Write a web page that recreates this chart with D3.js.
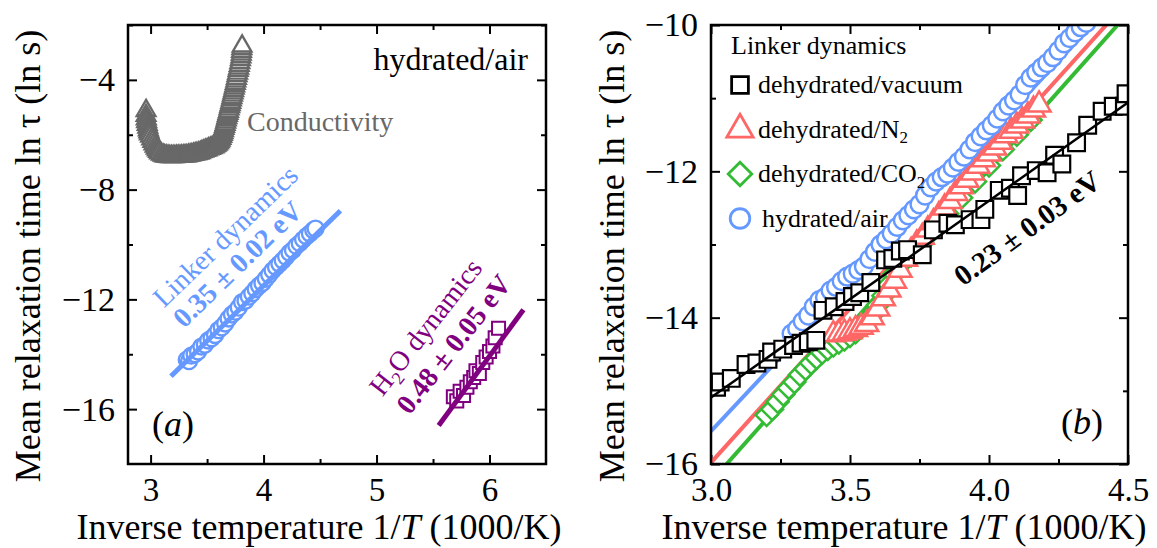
<!DOCTYPE html>
<html>
<head>
<meta charset="utf-8">
<script src="https://cdn.jsdelivr.net/npm/d3@7"></script>
<style>
body { margin: 0; background: #fff; }
text { font-family: "Liberation Serif", "Times New Roman", serif; }
</style>
</head>
<body>
<svg id="chart" width="1157" height="548"></svg>
<script>
// panel (a) data: inverse temperature (1000/K), ln tau
var conductivity = [
  [2.96, -5.12], [2.96, -5.3], [2.962, -5.42], [2.965, -5.52], [2.97, -5.62], [2.975, -5.72],
  [2.98, -5.82], [2.985, -5.9], [2.99, -5.97], [3.00, -6.05], [3.01, -6.15], [3.02, -6.24],
  [3.03, -6.33], [3.04, -6.42], [3.05, -6.49], [3.06, -6.55], [3.07, -6.61], [3.08, -6.66],
  [3.095, -6.71], [3.11, -6.74], [3.125, -6.77], [3.14, -6.78], [3.155, -6.79], [3.17, -6.8],
  [3.185, -6.8], [3.20, -6.8], [3.215, -6.8], [3.23, -6.79], [3.245, -6.79], [3.26, -6.79],
  [3.275, -6.78], [3.29, -6.78], [3.305, -6.77], [3.32, -6.77], [3.335, -6.75], [3.35, -6.74],
  [3.365, -6.73], [3.38, -6.72], [3.395, -6.7], [3.41, -6.69], [3.425, -6.67], [3.44, -6.65],
  [3.455, -6.62], [3.47, -6.6], [3.485, -6.57], [3.50, -6.55], [3.515, -6.52], [3.53, -6.5],
  [3.545, -6.47], [3.56, -6.44], [3.57, -6.41], [3.58, -6.38], [3.59, -6.34], [3.60, -6.3],
  [3.608, -6.25], [3.615, -6.2], [3.623, -6.13], [3.63, -6.06], [3.635, -5.99], [3.64, -5.92],
  [3.645, -5.85], [3.65, -5.77], [3.655, -5.7], [3.66, -5.62], [3.665, -5.54], [3.67, -5.46],
  [3.675, -5.38], [3.68, -5.3], [3.685, -5.22], [3.69, -5.15], [3.695, -5.06], [3.70, -4.98],
  [3.705, -4.9], [3.71, -4.82], [3.715, -4.73], [3.72, -4.65], [3.725, -4.56], [3.73, -4.48],
  [3.735, -4.39], [3.74, -4.3], [3.745, -4.22], [3.75, -4.13], [3.755, -4.04], [3.76, -3.95],
  [3.765, -3.85], [3.77, -3.76], [3.775, -3.66], [3.78, -3.57], [3.785, -3.47], [3.79, -3.37],
  [3.795, -3.26], [3.80, -3.16], [3.803, -3.06], [3.805, -2.96], [3.808, -2.86], [3.81, -2.77]
];
var linkerA = [
  [3.32, -14.20], [3.34, -14.25], [3.36, -14.05], [3.39, -14.00], [3.42, -13.90], [3.45, -13.72],
  [3.48, -13.65], [3.51, -13.50], [3.54, -13.42], [3.57, -13.30], [3.60, -13.12], [3.63, -13.02],
  [3.66, -12.88], [3.69, -12.70], [3.72, -12.55], [3.75, -12.45], [3.78, -12.30], [3.81, -12.10],
  [3.84, -12.05], [3.87, -11.90], [3.90, -11.78], [3.93, -11.62], [3.96, -11.50], [3.99, -11.40],
  [4.02, -11.25], [4.05, -11.10], [4.08, -10.95], [4.11, -10.82], [4.14, -10.70], [4.17, -10.58],
  [4.20, -10.45], [4.23, -10.30], [4.26, -10.20], [4.29, -10.05], [4.32, -9.95], [4.35, -9.82],
  [4.38, -9.70], [4.41, -9.60], [4.44, -9.48], [4.46, -9.42]
];
var waterA = [
  [5.68, -15.55], [5.71, -15.7], [5.74, -15.35], [5.77, -15.5], [5.80, -15.2], [5.83, -15.0],
  [5.86, -14.85], [5.88, -14.6], [5.91, -14.7], [5.94, -14.3], [5.97, -14.1], [6.00, -13.9],
  [6.03, -13.7], [6.05, -13.4], [6.08, -13.05]
];
var linkerFitA = [[3.18, -14.80], [4.68, -8.77]];
var waterFitA = [[5.55, -16.60], [6.30, -12.38]];

// panel (b) data
var vacuum = [
  [3.02, -14.95], [3.033, -14.88], [3.073, -14.83], [3.126, -14.64], [3.165, -14.62], [3.205, -14.57],
  [3.218, -14.47], [3.258, -14.43], [3.297, -14.38], [3.324, -14.35], [3.35, -14.33], [3.377, -14.31],
  [3.403, -13.90], [3.443, -13.85], [3.482, -13.78], [3.509, -13.71], [3.535, -13.66], [3.575, -13.52],
  [3.628, -13.21], [3.654, -13.19], [3.681, -13.09], [3.707, -13.07], [3.76, -13.14], [3.80, -12.80],
  [3.852, -12.71], [3.879, -12.73], [3.932, -12.66], [3.971, -12.66], [3.985, -12.52], [4.037, -12.26],
  [4.077, -12.23], [4.103, -12.33], [4.117, -12.06], [4.17, -11.99], [4.209, -12.02], [4.236, -11.78],
  [4.262, -11.90], [4.315, -11.61], [4.355, -11.37], [4.407, -11.18], [4.447, -11.11], [4.487, -11.11],
  [4.493, -10.94]
];
var nitrogen = [
  [3.44, -14.23], [3.46, -14.22], [3.48, -14.21], [3.50, -14.19], [3.52, -14.16], [3.54, -14.13],
  [3.56, -14.09], [3.58, -14.00], [3.60, -13.88], [3.62, -13.74], [3.64, -13.62], [3.66, -13.50],
  [3.68, -13.35], [3.70, -13.20], [3.72, -13.09], [3.74, -12.99], [3.76, -12.90], [3.78, -12.80],
  [3.80, -12.70], [3.82, -12.60], [3.84, -12.50], [3.86, -12.41], [3.88, -12.30], [3.90, -12.21],
  [3.92, -12.12], [3.94, -12.02], [3.96, -11.93], [3.98, -11.84], [4.00, -11.76], [4.02, -11.68],
  [4.04, -11.60], [4.06, -11.51], [4.08, -11.45], [4.10, -11.38], [4.12, -11.31], [4.14, -11.24],
  [4.16, -11.16], [4.18, -11.09]
];
var carbon = [
  [3.20, -15.33], [3.22, -15.25], [3.24, -15.15], [3.26, -15.05], [3.28, -14.96], [3.30, -14.88],
  [3.32, -14.78], [3.34, -14.70], [3.36, -14.62], [3.38, -14.55], [3.40, -14.48], [3.42, -14.43],
  [3.44, -14.38], [3.46, -14.34], [3.48, -14.30], [3.50, -14.25], [3.52, -14.20], [3.54, -14.13],
  [3.56, -14.06], [3.58, -13.96], [3.60, -13.83], [3.62, -13.70], [3.64, -13.55], [3.66, -13.40],
  [3.68, -13.28], [3.72, -13.15], [3.76, -12.98], [3.80, -12.80], [3.85, -12.58], [3.90, -12.36],
  [3.95, -12.14], [4.00, -11.92], [4.05, -11.70], [4.10, -11.50], [4.15, -11.30]
];
var air = [
  [3.29, -14.22], [3.31, -14.15], [3.33, -14.05], [3.35, -13.97], [3.37, -13.85], [3.39, -13.76],
  [3.41, -13.72], [3.43, -13.63], [3.45, -13.58], [3.47, -13.50], [3.49, -13.44], [3.51, -13.40],
  [3.53, -13.35], [3.55, -13.30], [3.57, -13.20], [3.59, -13.10], [3.61, -13.00], [3.63, -12.93],
  [3.65, -12.85], [3.67, -12.76], [3.69, -12.67], [3.71, -12.60], [3.73, -12.52], [3.75, -12.45],
  [3.77, -12.33], [3.79, -12.22], [3.81, -12.14], [3.83, -12.08], [3.85, -12.03], [3.87, -11.95],
  [3.89, -11.87], [3.91, -11.80], [3.93, -11.70], [3.95, -11.60], [3.97, -11.52], [3.99, -11.44],
  [4.01, -11.37], [4.03, -11.28], [4.05, -11.18], [4.07, -11.10], [4.09, -11.03], [4.11, -10.95],
  [4.13, -10.82], [4.15, -10.72], [4.17, -10.65], [4.19, -10.58], [4.21, -10.52], [4.23, -10.44],
  [4.25, -10.35], [4.27, -10.25], [4.29, -10.18], [4.31, -10.10], [4.33, -10.03], [4.35, -9.97]
];
var vacuumFit = [[3.0, -15.09], [4.5, -11.06]];
var airFit = [[3.0, -15.55], [4.5, -9.48]];
var nitrogenFit = [[3.0, -15.98], [4.5, -9.67]];
var carbonFit = [[3.0, -16.24], [4.5, -9.84]];

var legendLabels = ["dehydrated/vacuum", "dehydrated/N", "dehydrated/CO", "hydrated/air"];
var legendSubs = ["", "2", "2", ""];

var xTicksA = [3, 4, 5, 6], xMinorA = [3.5, 4.5, 5.5];
var yTicksA = [-4, -8, -12, -16], yMinorA = [-2, -6, -10, -14];
var xTicksB = [3.0, 3.5, 4.0, 4.5], xMinorB = [3.25, 3.75, 4.25];
var yTicksB = [-10, -12, -14, -16], yMinorB = [-11, -13, -15];

var colors = {
  gray: "#686868",
  blue: "#6699ff",
  purple: "#800080",
  black: "#000000",
  red: "#ff6666",
  green: "#33bb33"
};

var svg = d3.select("#chart");

function makePanel(cfg) {
  var x = d3.scaleLinear().domain(cfg.xDomain).range([cfg.left, cfg.right]);
  var y = d3.scaleLinear().domain(cfg.yDomain).range([cfg.bottom, cfg.top]);

  svg.append("clipPath").attr("id", cfg.id + "-clip")
    .append("rect")
    .attr("x", cfg.left).attr("y", cfg.top)
    .attr("width", cfg.right - cfg.left).attr("height", cfg.bottom - cfg.top);

  var axes = svg.append("g").attr("class", "axes");

  function addAxis(axis, tx, ty, fs) {
    var a = axes.append("g")
      .attr("transform", "translate(" + tx + "," + ty + ")")
      .call(axis);
    a.select(".domain").remove();
    a.selectAll(".tick line").attr("stroke-width", 2);
    a.attr("font-size", fs || 34).attr("font-family", null);
    return a;
  }

  addAxis(d3.axisBottom(x).tickValues(cfg.xTicks).tickSize(-9).tickPadding(14).tickFormat(cfg.xFormat), 0, cfg.bottom, 33);
  addAxis(d3.axisBottom(x).tickValues(cfg.xMinor).tickSize(-5).tickFormat(""), 0, cfg.bottom);
  addAxis(d3.axisTop(x).tickValues(cfg.xTicks).tickSize(-9).tickFormat(""), 0, cfg.top);
  addAxis(d3.axisTop(x).tickValues(cfg.xMinor).tickSize(-5).tickFormat(""), 0, cfg.top);
  addAxis(d3.axisLeft(y).tickValues(cfg.yTicks).tickSize(-9).tickPadding(13).tickFormat(d3.format("d")), cfg.left, 0);
  addAxis(d3.axisLeft(y).tickValues(cfg.yMinor).tickSize(-5).tickFormat(""), cfg.left, 0);
  addAxis(d3.axisRight(y).tickValues(cfg.yTicks).tickSize(-9).tickFormat(""), cfg.right, 0);
  addAxis(d3.axisRight(y).tickValues(cfg.yMinor).tickSize(-5).tickFormat(""), cfg.right, 0);

  var plot = svg.append("g").attr("clip-path", "url(#" + cfg.id + "-clip)");

  svg.append("rect")
    .attr("x", cfg.left).attr("y", cfg.top)
    .attr("width", cfg.right - cfg.left).attr("height", cfg.bottom - cfg.top)
    .attr("fill", "none").attr("stroke", "#000").attr("stroke-width", 2.5);

  // axis titles
  var xt = svg.append("text")
    .attr("x", cfg.xTitleX).attr("y", 539)
    .attr("text-anchor", "middle").attr("font-size", 36);
  xt.append("tspan").text("Inverse temperature 1/");
  xt.append("tspan").attr("font-style", "italic").text("T");
  xt.append("tspan").text(" (1000/K)");

  svg.append("text")
    .attr("transform", "translate(" + cfg.yTitleX + ",256) rotate(-90)")
    .attr("text-anchor", "middle").attr("font-size", 36)
    .text("Mean relaxation time ln \u03c4 (ln s)");

  return { x: x, y: y, plot: plot };
}

function drawMarkers(panel, data, type, size, color, rot, width) {
  var sym = d3.symbol().type(type).size(size);
  panel.plot.append("g").selectAll("path")
    .data(data).enter().append("path")
    .attr("d", sym)
    .attr("transform", function(d) {
      return "translate(" + panel.x(d[0]) + "," + panel.y(d[1]) + ")" + (rot ? " rotate(" + rot + ")" : "");
    })
    .attr("fill", "#fff")
    .attr("stroke", color)
    .attr("stroke-width", width);
}

function drawFit(panel, data, color, width) {
  var line = d3.line()
    .x(function(d) { return panel.x(d[0]); })
    .y(function(d) { return panel.y(d[1]); });
  panel.plot.append("path")
    .datum(data)
    .attr("d", line)
    .attr("fill", "none")
    .attr("stroke", color)
    .attr("stroke-width", width);
}

function label(tx, ty, rot, size, color, weight, parts, anchor) {
  var t = svg.append("text")
    .attr("transform", "translate(" + tx + "," + ty + ")" + (rot ? " rotate(" + rot + ")" : ""))
    .attr("text-anchor", anchor || "middle")
    .attr("font-size", size)
    .attr("fill", color)
    .attr("font-weight", weight || "normal");
  parts.forEach(function(p) {
    var s = t.append("tspan").text(p.t);
    if (p.italic) s.attr("font-style", "italic");
    if (p.sub) s.attr("font-size", size * 0.65).attr("dy", size * 0.22);
    if (p.up) s.attr("dy", -size * 0.22);
  });
  return t;
}

// ---- panel (a)
var pa = makePanel({
  id: "pa", left: 128, right: 546, top: 25, bottom: 464,
  xDomain: [2.8, 6.5], yDomain: [-18, -2],
  xTicks: xTicksA, xMinor: xMinorA, yTicks: yTicksA, yMinor: yMinorA,
  xFormat: d3.format("d"), xTitleX: 319, yTitleX: 40
});

drawMarkers(pa, conductivity, d3.symbolTriangle, 150, colors.gray, 0, 2.4);
drawMarkers(pa, linkerA, d3.symbolCircle, 200, colors.blue, 0, 2.4);
drawFit(pa, linkerFitA, colors.blue, 5);
drawMarkers(pa, waterA, d3.symbolSquare, 170, colors.purple, 0, 2);
drawFit(pa, waterFitA, colors.purple, 5);

label(528, 70, 0, 32, "#000", "normal", [{t: "hydrated/air"}], "end");
label(247, 131, 0, 28, colors.gray, "normal", [{t: "Conductivity"}], "start");
label(152, 436, 0, 36, "#000", "normal", [{t: "("}, {t: "a", italic: true}, {t: ")"}], "start");
label(232, 243, -44, 28, colors.blue, "normal", [{t: "Linker dynamics"}]);
label(244, 271, -44, 28, colors.blue, "bold", [{t: "0.35 \u00b1 0.02 eV"}]);
label(433, 333, -52, 28, colors.purple, "normal", [{t: "H"}, {t: "2", sub: true}, {t: "O dynamics", up: true}]);
label(461, 350, -52, 28, colors.purple, "bold", [{t: "0.48 \u00b1 0.05 eV"}]);

// ---- panel (b)
var pb = makePanel({
  id: "pb", left: 711, right: 1128, top: 25, bottom: 464,
  xDomain: [3.0, 4.5], yDomain: [-16, -10],
  xTicks: xTicksB, xMinor: xMinorB, yTicks: yTicksB, yMinor: yMinorB,
  xFormat: d3.format(".1f"), xTitleX: 904, yTitleX: 624
});

drawFit(pb, airFit, colors.blue, 4);
drawFit(pb, nitrogenFit, colors.red, 4);
drawFit(pb, carbonFit, colors.green, 4);
drawMarkers(pb, carbon, d3.symbolSquare, 240, colors.green, 45, 2.5);
drawMarkers(pb, nitrogen, d3.symbolTriangle, 230, colors.red, 0, 2.5);
drawMarkers(pb, air, d3.symbolCircle, 250, colors.blue, 0, 2.5);
drawMarkers(pb, vacuum, d3.symbolSquare, 280, colors.black, 0, 2.2);
drawFit(pb, vacuumFit, colors.black, 2.5);

label(1033, 236, -36, 29, "#000", "bold", [{t: "0.23 \u00b1 0.03 eV"}]);
label(1061, 434, 0, 36, "#000", "normal", [{t: "("}, {t: "b", italic: true}, {t: ")"}], "start");

// legend
var legend = svg.append("g");
label(731, 54, 0, 26, "#000", "normal", [{t: "Linker dynamics"}], "start");
var legendTypes = [d3.symbolSquare, d3.symbolTriangle, d3.symbolSquare, d3.symbolCircle];
var legendColors = [colors.black, colors.red, colors.green, colors.blue];
var legendSizes = [280, 300, 280, 300];
var legendRot = [0, 0, 45, 0];
legendLabels.forEach(function(name, i) {
  var cy = 85 + i * 44.5;
  legend.append("path")
    .attr("d", d3.symbol().type(legendTypes[i]).size(legendSizes[i]))
    .attr("transform", "translate(740," + cy + ") rotate(" + legendRot[i] + ")")
    .attr("fill", "#fff").attr("stroke", legendColors[i]).attr("stroke-width", 2.8);
  var parts = [{t: name}];
  if (legendSubs[i]) parts.push({t: legendSubs[i], sub: true});
  label(i === 3 ? 762 : 758, cy + 8, 0, 26, "#000", "normal", parts, "start");
});
</script>
</body>
</html>
